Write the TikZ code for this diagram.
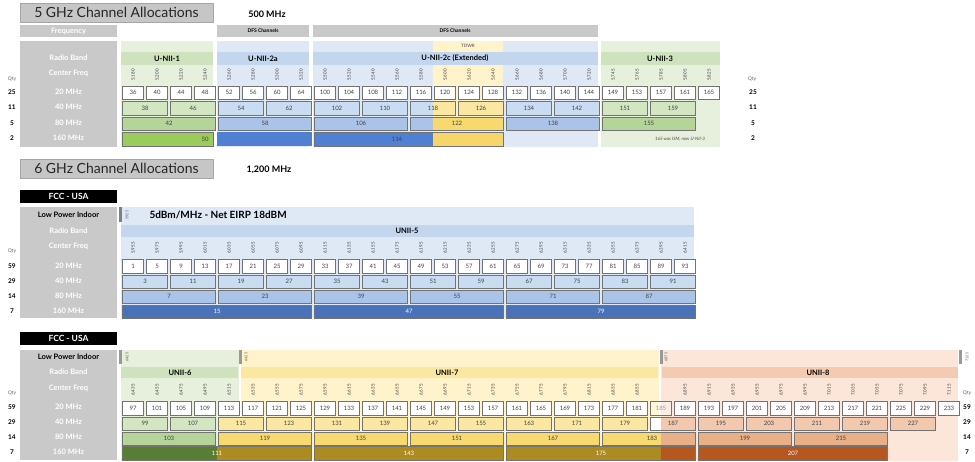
\documentclass[tikz,border=0pt]{standalone}
\usepackage{fontspec}
\setmainfont{Lato}
\begin{document}
\begin{tikzpicture}[x=1pt,y=-1pt,
  cell/.style={draw=black!55,line width=0.6pt},
  num/.style={font=\fontsize{6}{6}\selectfont,text=black!75,inner sep=0pt},
  wnum/.style={font=\fontsize{6}{6}\selectfont,text=white,inner sep=0pt},
  fq/.style={font=\fontsize{4.4}{4.5}\selectfont,text=black!80,rotate=90,inner sep=0pt},
  lab/.style={font=\bfseries\fontsize{7.5}{8}\selectfont,text=white,inner sep=0pt},
  qty/.style={font=\bfseries\fontsize{6.5}{7}\selectfont,inner sep=0pt},
  qlab/.style={font=\fontsize{5}{5}\selectfont,text=black!60,inner sep=0pt},
  band/.style={font=\bfseries\fontsize{7.5}{8}\selectfont,inner sep=0pt},
  title/.style={fill=gray!45,draw=gray!70,minimum width=193pt,minimum height=19pt,inner sep=0pt,font=\fontsize{14}{14}\selectfont,text=black!85},
  fcc/.style={fill=black,text=white,minimum width=97pt,minimum height=13pt,inner sep=0pt,font=\bfseries\fontsize{8.5}{9}\selectfont},
  tiny/.style={font=\fontsize{3.6}{4}\selectfont,text=black!70,rotate=90,inner sep=0pt}]
\definecolor{pnl}{HTML}{C9C9C9}
\definecolor{gA}{HTML}{E6F0DD}\definecolor{gB}{HTML}{CFE2BE}\definecolor{gC}{HTML}{D2E6C2}\definecolor{gD}{HTML}{B5D49A}\definecolor{gE}{HTML}{9BCB5A}\definecolor{gF}{HTML}{587E33}
\definecolor{bA}{HTML}{DFE9F6}\definecolor{bB}{HTML}{C3D6EE}\definecolor{bC}{HTML}{C9DCF2}\definecolor{bD}{HTML}{A9C4E8}\definecolor{bE}{HTML}{4F80D2}\definecolor{bF}{HTML}{4A72B8}
\definecolor{yA}{HTML}{FFF3CC}\definecolor{yC}{HTML}{FBE7A2}\definecolor{yD}{HTML}{F8D970}\definecolor{yE}{HTML}{F6D66A}\definecolor{yF}{HTML}{AC8B20}
\definecolor{oA}{HTML}{FBE6D9}\definecolor{oB}{HTML}{F4CBB0}\definecolor{oC}{HTML}{F2C9AE}\definecolor{oD}{HTML}{E9AF87}\definecolor{oF}{HTML}{B5571F}
\useasboundingbox (0,0) rectangle (975,461);
\fill[white] (0,0) rectangle (975,461);
\def\cx#1{121+(#1)*24}
\newcommand\cbx[7]{\draw[cell,fill=#5] ({\cx{#1}+1.5},#3) rectangle ({\cx{#1+#2}-1.5},#4);
  \node[#7] at ({\cx{#1}+#2*12},{(#3+#4)/2}) {#6};}
\newcommand\sbx[9]{\fill[#5] ({\cx{#1}+1.5},#3) rectangle (#6,#4);
  \fill[#7] (#6,#3) rectangle ({\cx{#1+#2}-1.5},#4);
  \draw[cell] ({\cx{#1}+1.5},#3) rectangle ({\cx{#1+#2}-1.5},#4);
  \node[#9] at ({\cx{#1}+#2*12},{(#3+#4)/2}) {#8};}
\newcommand\fqlabel[3]{\pgfmathtruncatemacro\gh{#2/1000}\pgfmathtruncatemacro\mh{#2-1000*\gh}%
  \ifnum\mh<100 \edef\mh{0\mh}\fi
  \node[fq] at ({\cx{#1}+12},#3) {\gh.\mh};}

%%%%%%%%%%%%%%% 5 GHz
\node[title] (t5) at (116.5,12.5) {5 GHz Channel Allocations};
\node[font=\bfseries\fontsize{9}{9}\selectfont] (m5) at (267,14) {500 MHz};
\fill[pnl] (20,25) rectangle (117,37);
\node[lab] at (68.5,31) {Frequency};
\fill[pnl] (217,25) rectangle (309,37); \node[font=\bfseries\fontsize{5}{5}\selectfont] at (263,31) {DFS Channels};
\fill[pnl] (313,25) rectangle (598,37); \node[font=\bfseries\fontsize{5}{5}\selectfont] at (455,31) {DFS Channels};
\fill[pnl] (20,41) rectangle (117,147);
\foreach \t/\y in {Radio Band/58,Center Freq/73,20 MHz/92,40 MHz/107,80 MHz/123,160 MHz/138}{\node[lab] at (68.5,\y) {\t};}
\fill[gA] (121,41) rectangle (213,147); \fill[gB] (121,52) rectangle (213,65);
\fill[bA] (217,41) rectangle (309,147); \fill[bB] (217,52) rectangle (309,65);
\fill[bA] (313,41) rectangle (598,147); \fill[yA] (433,41) rectangle (503,65); \fill[yA] (433,65) rectangle (503,147); \fill[bB] (313,52) rectangle (598,65);
\fill[gA] (601,41) rectangle (720,147); \fill[gB] (601,52) rectangle (720,65);
\node[font=\fontsize{4.5}{4.5}\selectfont,text=black!70] at (468,46) {TDWR};
\node[band] at (167,58.5) {U-NII-1};
\node[band] at (263,58.5) {U-NII-2a};
\node[band] at (455,58.5) {U-NII-2c (Extended)};
\node[band] at (660,58.5) {U-NII-3};
\foreach \c/\n/\f in {0/36/5180,1/40/5200,2/44/5220,3/48/5240,4/52/5260,5/56/5280,6/60/5300,7/64/5320,8/100/5500,9/104/5520,10/108/5540,11/112/5560,12/116/5580,13/120/5600,14/124/5620,15/128/5640,16/132/5660,17/136/5680,18/140/5700,19/144/5720,20/149/5745,21/153/5765,22/157/5785,23/161/5805,24/165/5825}{
  \cbx{\c}{1}{86}{99}{white}{\n}{num}\fqlabel{\c}{\f}{75}}
\cbx{0}{2}{101}{115}{gC}{38}{num}\cbx{2}{2}{101}{115}{gC}{46}{num}
\cbx{4}{2}{101}{115}{bC}{54}{num}\cbx{6}{2}{101}{115}{bC}{62}{num}
\cbx{8}{2}{101}{115}{bC}{102}{num}\cbx{10}{2}{101}{115}{bC}{110}{num}
\sbx{12}{2}{101}{115}{bC}{433}{yC}{118}{num}
\cbx{14}{2}{101}{115}{yC}{126}{num}
\cbx{16}{2}{101}{115}{bC}{134}{num}\cbx{18}{2}{101}{115}{bC}{142}{num}
\cbx{20}{2}{101}{115}{gC}{151}{num}\cbx{22}{2}{101}{115}{gC}{159}{num}
\cbx{0}{4}{117}{130}{gD}{42}{num}\cbx{4}{4}{117}{130}{bD}{58}{num}
\cbx{8}{4}{117}{130}{bD}{106}{num}
\sbx{12}{4}{117}{130}{bD}{433}{yD}{122}{num}
\cbx{16}{4}{117}{130}{bD}{138}{num}\cbx{20}{4}{117}{130}{gD}{155}{num}
\fill[gE] (122.5,132) rectangle (213,146); \fill[bE] (217,132) rectangle (311.5,146);
\draw[cell] (122.5,132) rectangle (213,146);
\node[num] at (205,139) {50};
\sbx{8}{8}{132}{146}{bE}{433}{yE}{}{num}
\node[num] at (397,139) {114};
\node[font=\itshape\fontsize{4.5}{4.5}\selectfont,text=black!70] at (680,139) {165 was ISM, now U-NII-3};
\node[qlab] at (12,79) {Qty}; \node[qlab] at (752,79) {Qty};
\foreach \q/\y in {25/92,11/107,5/123,2/138}{\node[qty] at (12,\y) {\q};\node[qty] at (753,\y) {\q};}

%%%%%%%%%%%%%%% 6 GHz top
\node[title] (t6) at (116.5,168.5) {6 GHz Channel Allocations};
\node[font=\bfseries\fontsize{9}{9}\selectfont] (m6) at (269,170) {1,200 MHz};
\node[fcc] (f1) at (68.5,196.5) {FCC - USA};
\fill[pnl] (20,207) rectangle (117,318);
\node[font=\bfseries\fontsize{7.5}{8}\selectfont,inner sep=0pt] at (68.5,215) {Low Power Indoor};
\foreach \t/\y in {Radio Band/231,Center Freq/246,20 MHz/266,40 MHz/281,80 MHz/296,160 MHz/311}{\node[lab] at (68.5,\y) {\t};}
\fill[bA] (121,207) rectangle (694,318); \fill[bB] (121,225) rectangle (694,237);
\fill[black!50] (118.5,207) rectangle (121.5,222);
\node[tiny] at (127,215) {5925};
\node[font=\bfseries\fontsize{10}{10}\selectfont,anchor=west] at (146,215) {5dBm/MHz - Net EIRP 18dBM};
\node[band] at (407,231) {UNII-5};
\foreach \i in {0,...,23}{\pgfmathtruncatemacro\ch{1+4*\i}\pgfmathtruncatemacro\fr{5955+20*\i}
  \cbx{\i}{1}{259}{273}{white}{\ch}{num}\fqlabel{\i}{\fr}{248}}
\foreach \i in {0,...,11}{\pgfmathtruncatemacro\ch{3+8*\i}\cbx{2*\i}{2}{275}{288}{bC}{\ch}{num}}
\foreach \i in {0,...,5}{\pgfmathtruncatemacro\ch{7+16*\i}\cbx{4*\i}{4}{290}{303}{bD}{\ch}{num}}
\foreach \i in {0,...,2}{\pgfmathtruncatemacro\ch{15+32*\i}\cbx{8*\i}{8}{305}{318}{bF}{\ch}{wnum}}
\node[qlab] at (12,251) {Qty};
\foreach \q/\y in {59/266,29/281,14/296,7/311}{\node[qty] at (12,\y) {\q};}

%%%%%%%%%%%%%%% 6 GHz bottom
\node[fcc] (f2) at (68.5,338) {FCC - USA};
\fill[pnl] (20,350) rectangle (117,460);
\node[font=\bfseries\fontsize{7.5}{8}\selectfont,inner sep=0pt] at (68.5,357) {Low Power Indoor};
\foreach \t/\y in {Radio Band/372,Center Freq/388,20 MHz/407,40 MHz/422,80 MHz/437,160 MHz/452}{\node[lab] at (68.5,\y) {\t};}
\fill[gA] (121,350) rectangle (239,461); \fill[gB] (121,367) rectangle (238,378);
\fill[yA] (241,350) rectangle (659,461); \fill[yC] (241,367) rectangle (658,378);
\fill[oA] (661,350) rectangle (958,461); \fill[oB] (662,367) rectangle (958,378);
\foreach \x in {118.5,238.5,659.5,958.5}{\fill[black!40] (\x,350) rectangle (\x+3,364);}
\node[tiny] at (127,357) {6425};
\node[tiny] at (246,357) {6425};
\node[tiny] at (666,357) {6875};
\node[tiny] at (967,357) {7125};
\node[band] at (180,372.5) {UNII-6};
\node[band] at (447,372.5) {UNII-7};
\node[band] at (818,372.5) {UNII-8};
\foreach \i in {0,...,34}{\pgfmathtruncatemacro\ch{97+4*\i}\pgfmathtruncatemacro\fr{6435+20*\i}
  \ifnum\i=22 \cbx{\i}{1}{401}{415}{white,fill opacity=0.3}{\ch}{num,text=black!40}\else
  \cbx{\i}{1}{401}{415}{white}{\ch}{num}\fqlabel{\i}{\fr}{390}\fi}
\cbx{0}{2}{417}{430}{gC}{99}{num}\cbx{2}{2}{417}{430}{gC}{107}{num}
\foreach \i in {2,...,10}{\pgfmathtruncatemacro\ch{99+8*\i}\cbx{2*\i}{2}{417}{430}{yC}{\ch}{num}}
\sbx{22}{2}{417}{430}{white}{661}{oC}{187}{num}
\foreach \i in {12,...,16}{\pgfmathtruncatemacro\ch{99+8*\i}\cbx{2*\i}{2}{417}{430}{oC}{\ch}{num}}
\cbx{0}{4}{432}{445}{gD}{103}{num}
\foreach \i in {1,...,4}{\pgfmathtruncatemacro\ch{103+16*\i}\cbx{4*\i}{4}{432}{445}{yD}{\ch}{num}}
\sbx{20}{4}{432}{445}{yD}{661}{oD}{}{num}\node[num] at (652,438.5) {183};
\cbx{24}{4}{432}{445}{oD}{199}{num}\cbx{28}{4}{432}{445}{oD}{215}{num}
\sbx{0}{8}{446}{460}{gF}{217}{yF}{111}{wnum}
\cbx{8}{8}{446}{460}{yF}{143}{wnum}
\sbx{16}{8}{446}{460}{yF}{661}{oF}{175}{wnum}
\cbx{24}{8}{446}{460}{oF}{207}{wnum}
\node[qlab] at (12,393) {Qty}; \node[qlab] at (967,393) {Qty};
\foreach \q/\y in {59/407,29/422,14/437,7/452}{\node[qty] at (12,\y) {\q};\node[qty] at (967,\y) {\q};}
\end{tikzpicture}
\end{document}
